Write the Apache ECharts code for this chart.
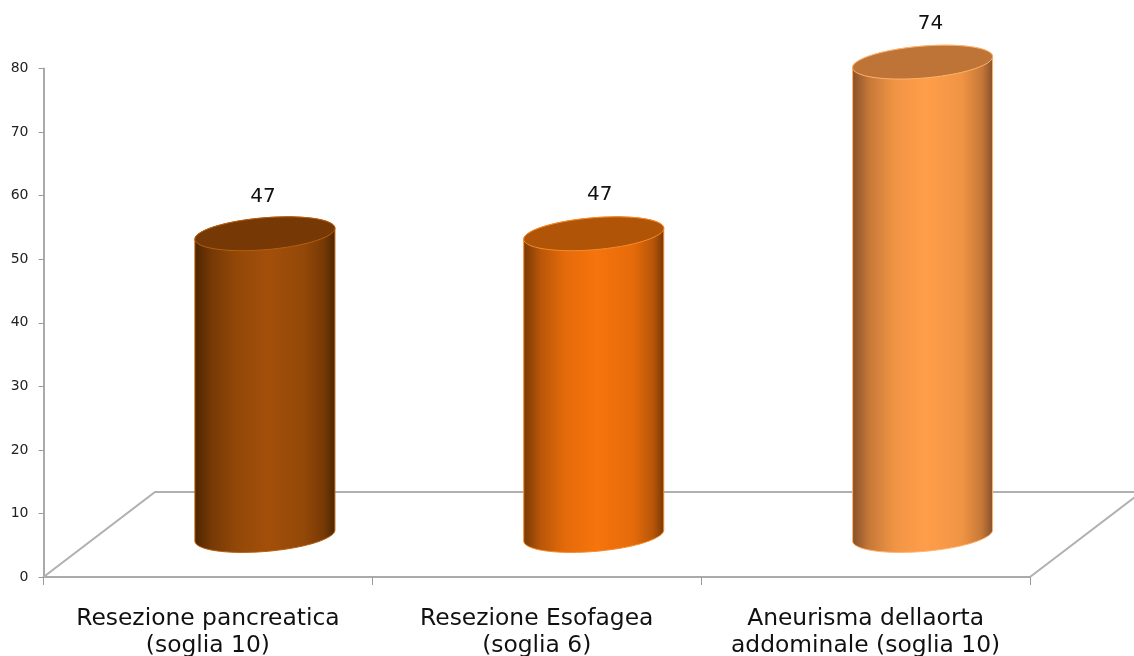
<!DOCTYPE html>
<html>
<head>
<meta charset="utf-8">
<style>html,body{margin:0;padding:0;background:#fff}#chart{width:1134px;height:656px}</style>
<script src="https://cdn.jsdelivr.net/npm/echarts@6/dist/echarts.min.js"></script>
</head>
<body>
<div id="chart"></div>
<script>
// Cases per procedure, shown as cylinders standing on a perspective floor.
const categories = [
  'Resezione pancreatica\n(soglia 10)',
  'Resezione Esofagea\n(soglia 6)',
  'Aneurisma dellaorta\naddominale (soglia 10)'
];
const values = [47, 47, 74];
const yTicks = { min: 0, max: 80, step: 10 };

// Cylinder shading: edge, inner edge, shoulder, centre of the wall, cap fill, rim stroke.
const edgeColors = ['#4c2500', '#763905', '#85502a'];
const innerEdgeColors = ['#763906', '#b85608', '#c67838'];
const shoulderColors = ['#934808', '#e56b0a', '#f09444'];
const centreColors = ['#a34f0a', '#f6740c', '#ff9e4a'];
const capColors = ['#763805', '#b05507', '#bd7436'];
const rimColors = ['#b5600f', '#f88a2a', '#ffb46e'];

// Floor perspective and cylinder geometry, in pixels.
const FLOOR_DX = 111.5, FLOOR_DY = 85;
const CAP_LIFT = 44.5, BASE_LIFT = 41.5;
const SHIFT_X = 57, RADIUS_X = 70, RADIUS_Y = 16, TILT = 5.5;
const LABEL_GAP = 36.5;
const labelNudgeX = [-2, 6, 8];
const labelNudgeY = [0, -2, -2];

function ellipsePoint(cx, cy, t) {
  return [cx + RADIUS_X * Math.cos(t), cy + RADIUS_Y * Math.sin(t) - TILT * Math.cos(t)];
}

function ellipseArc(cx, cy, from, to, steps) {
  const pts = [];
  for (let i = 0; i <= steps; i++) {
    pts.push(ellipsePoint(cx, cy, from + (to - from) * i / steps));
  }
  return pts;
}

function renderFloor(params, api) {
  const g = params.coordSys;
  const x0 = g.x, x1 = g.x + g.width, y0 = g.y + g.height;
  const style = { stroke: '#b0b0b0', lineWidth: 2, fill: null };
  return {
    type: 'polyline',
    shape: { points: [[x0, y0], [x0 + FLOOR_DX, y0 - FLOOR_DY], [x1 + FLOOR_DX, y0 - FLOOR_DY], [x1, y0]] },
    style: style,
    silent: true
  };
}

function renderCylinder(params, api) {
  const i = params.dataIndex;
  const top = api.coord([api.value(0), api.value(1)]);
  const zero = api.coord([api.value(0), 0]);
  const cx = top[0] + SHIFT_X;
  const capY = top[1] - CAP_LIFT;
  const baseY = zero[1] - BASE_LIFT;
  const wall = ellipseArc(cx, baseY, 0, Math.PI, 64).concat(ellipseArc(cx, capY, Math.PI, 2 * Math.PI, 64));
  const cap = ellipseArc(cx, capY, 0, 2 * Math.PI, 96);
  return {
    type: 'group',
    children: [
      {
        type: 'polygon',
        shape: { points: wall },
        style: {
          stroke: rimColors[i],
          lineWidth: 1,
          fill: {
            type: 'linear', x: 0, y: 0, x2: 1, y2: 0,
            colorStops: [
              { offset: 0, color: edgeColors[i] },
              { offset: 0.12, color: innerEdgeColors[i] },
              { offset: 0.3, color: shoulderColors[i] },
              { offset: 0.52, color: centreColors[i] },
              { offset: 0.78, color: shoulderColors[i] },
              { offset: 0.92, color: innerEdgeColors[i] },
              { offset: 1, color: edgeColors[i] }
            ]
          }
        }
      },
      {
        type: 'polygon',
        shape: { points: cap },
        style: { fill: capColors[i], stroke: rimColors[i], lineWidth: 1 }
      },
      {
        type: 'text',
        style: {
          text: String(api.value(1)),
          x: cx + labelNudgeX[i],
          y: capY - LABEL_GAP + labelNudgeY[i],
          align: 'center',
          verticalAlign: 'middle',
          fontFamily: 'DejaVu Sans',
          fontSize: 20,
          fill: '#111'
        }
      }
    ]
  };
}

const chart = echarts.init(document.getElementById('chart'), null, { renderer: 'canvas' });
chart.setOption({
  animation: false,
  backgroundColor: '#fff',
  grid: { left: 43.5, right: 104, top: 68.5, bottom: 79, outerBoundsMode: 'none' },
  xAxis: {
    type: 'category',
    data: categories,
    axisLine: { lineStyle: { color: '#aaaaaa', width: 2 } },
    axisTick: { show: true, interval: 0, alignWithLabel: false, length: 8, lineStyle: { color: '#9a9a9a', width: 1 } },
    axisLabel: {
      margin: 28,
      interval: 0,
      fontFamily: 'DejaVu Sans',
      fontSize: 23.4,
      lineHeight: 27,
      color: '#111'
    }
  },
  yAxis: {
    type: 'value',
    min: yTicks.min,
    max: yTicks.max,
    interval: yTicks.step,
    splitLine: { show: false },
    axisLine: { show: true, lineStyle: { color: '#aaaaaa', width: 2 } },
    axisTick: { show: true, length: 5, lineStyle: { color: '#9a9a9a', width: 1 } },
    axisLabel: { margin: 15, padding: [3, 0, 0, 0], fontFamily: 'DejaVu Sans', fontSize: 14, color: '#222' }
  },
  series: [
    { type: 'custom', z: 1, silent: true, renderItem: renderFloor, data: [[0, 0]], clip: false },
    {
      type: 'custom',
      z: 3,
      renderItem: renderCylinder,
      encode: { x: 0, y: 1 },
      data: values.map((v, i) => [i, v]),
      clip: false
    }
  ]
});
</script>
</body>
</html>
